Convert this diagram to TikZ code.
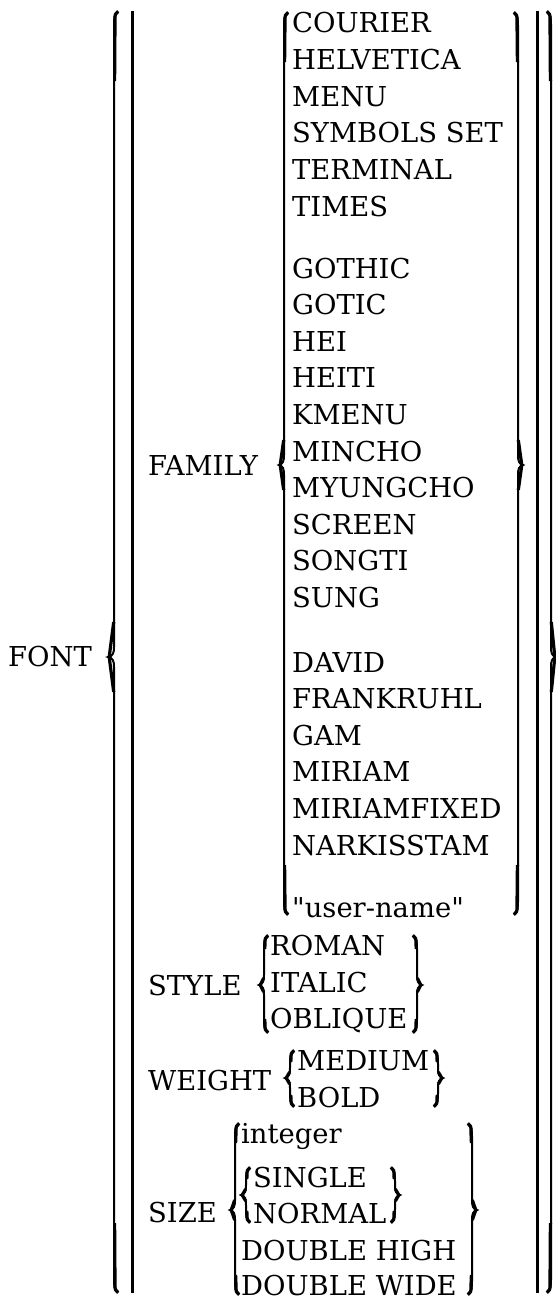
\documentclass[tikz,border=0pt]{standalone}
\usepackage{fontspec}
\setmainfont{DejaVu Serif}[Ligatures=TeXOff]
\tikzset{
  lbl/.style={anchor=base west, inner sep=0pt, font=\fontsize{27.4}{30}\selectfont},
  bracepath/.style={line width=2pt, line join=miter},
  bracethick/.style={line width=3.2pt, line cap=butt},
  barline/.style={line width=3pt}
}
% left brace: x, top, mid, bottom, depth, thick length
\newcommand\leftbr[6]{%
  \draw[bracepath] (#1+4,#2) .. controls (#1,#2+2) and (#1,#2+8) .. (#1,#2+16)
    -- (#1,#3-10) .. controls (#1,#3-4) and (#1-1,#3-1) .. (#1-#5,#3)
    .. controls (#1-1,#3+1) and (#1,#3+4) .. (#1,#3+10)
    -- (#1,#4-16) .. controls (#1,#4-8) and (#1,#4-2) .. (#1+4,#4);
  \draw[bracethick] (#1+4,#2+0.5) .. controls (#1+1,#2+3) .. (#1+1,#2+10) -- (#1+0.6,#2+#6);
  \draw[bracethick] (#1+4,#4-0.5) .. controls (#1+1,#4-3) .. (#1+1,#4-10) -- (#1+0.6,#4-#6);
  \draw[bracethick] (#1-0.3,#3-#6*0.5) -- (#1-#5+1.2,#3) -- (#1-0.3,#3+#6*0.5);}
\newcommand\rightbr[6]{%
  \draw[bracepath] (#1-4,#2) .. controls (#1,#2+2) and (#1,#2+8) .. (#1,#2+16)
    -- (#1,#3-10) .. controls (#1,#3-4) and (#1+1,#3-1) .. (#1+#5,#3)
    .. controls (#1+1,#3+1) and (#1,#3+4) .. (#1,#3+10)
    -- (#1,#4-16) .. controls (#1,#4-8) and (#1,#4-2) .. (#1-4,#4);
  \draw[bracethick] (#1-4,#2+0.5) .. controls (#1-1,#2+3) .. (#1-1,#2+10) -- (#1-0.6,#2+#6);
  \draw[bracethick] (#1-4,#4-0.5) .. controls (#1-1,#4-3) .. (#1-1,#4-10) -- (#1-0.6,#4-#6);
  \draw[bracethick] (#1+0.3,#3-#6*0.5) -- (#1+#5-1.2,#3) -- (#1+0.3,#3+#6*0.5);}
\begin{document}
\begin{tikzpicture}[x=1pt, y=-1pt]
\useasboundingbox (0,0) rectangle (555,1300);
% outer structure
\node[lbl] (font) at (8,666) {FONT};
\leftbr{114}{11}{657}{1293}{6}{70}
\draw[barline] (132,11) -- (132,1293);
\draw[barline] (537,11) -- (537,1293);
\rightbr{551}{11}{657}{1293}{5}{70}
% FAMILY
\node[lbl] (family) at (148,475) {FAMILY};
\leftbr{284}{12}{465}{915}{5}{50}
\rightbr{518}{12}{465}{915}{5}{50}
\foreach \t [count=\i from 0] in {COURIER,HELVETICA,MENU,SYMBOLS SET,TERMINAL,TIMES}
  \node[lbl] (fa\i) at (292,{33+36.6*\i}) {\t};
\foreach \t [count=\i from 0] in {GOTHIC,GOTIC,HEI,HEITI,KMENU,MINCHO,MYUNGCHO,SCREEN,SONGTI,SUNG}
  \node[lbl] (fb\i) at (292,{278+36.6*\i}) {\t};
\foreach \t [count=\i from 0] in {DAVID,FRANKRUHL,GAM,MIRIAM,MIRIAMFIXED,NARKISSTAM}
  \node[lbl] (fc\i) at (292,{672+36.6*\i}) {\t};
\node[lbl] (user) at (292,917) {"user-name"};
% STYLE
\node[lbl] (style) at (148,995) {STYLE};
\leftbr{264}{935}{985}{1033}{5}{14}
\rightbr{417}{935}{985}{1033}{5}{14}
\node[lbl] (roman) at (270,955) {ROMAN};
\node[lbl] (italic) at (270,992) {ITALIC};
\node[lbl] (oblique) at (270,1028) {OBLIQUE};
% WEIGHT
\node[lbl] (weight) at (148,1090) {WEIGHT};
\leftbr{290}{1050}{1078}{1107}{5}{12}
\rightbr{438}{1050}{1078}{1107}{5}{12}
\node[lbl] (medium) at (297,1070) {MEDIUM};
\node[lbl] (bold) at (297,1107) {BOLD};
% SIZE
\node[lbl] (size) at (148,1222) {SIZE};
\leftbr{235}{1123}{1210}{1295}{5}{20}
\rightbr{472}{1123}{1210}{1295}{5}{20}
\node[lbl] (integer) at (241,1143) {integer};
\leftbr{246}{1167}{1195}{1223}{5}{12}
\rightbr{395}{1167}{1195}{1223}{5}{12}
\node[lbl] (single) at (253,1187) {SINGLE};
\node[lbl] (normal) at (253,1223) {NORMAL};
\node[lbl] (dhigh) at (241,1260) {DOUBLE HIGH};
\node[lbl] (dwide) at (241,1295) {DOUBLE WIDE};
\end{tikzpicture}
\end{document}
